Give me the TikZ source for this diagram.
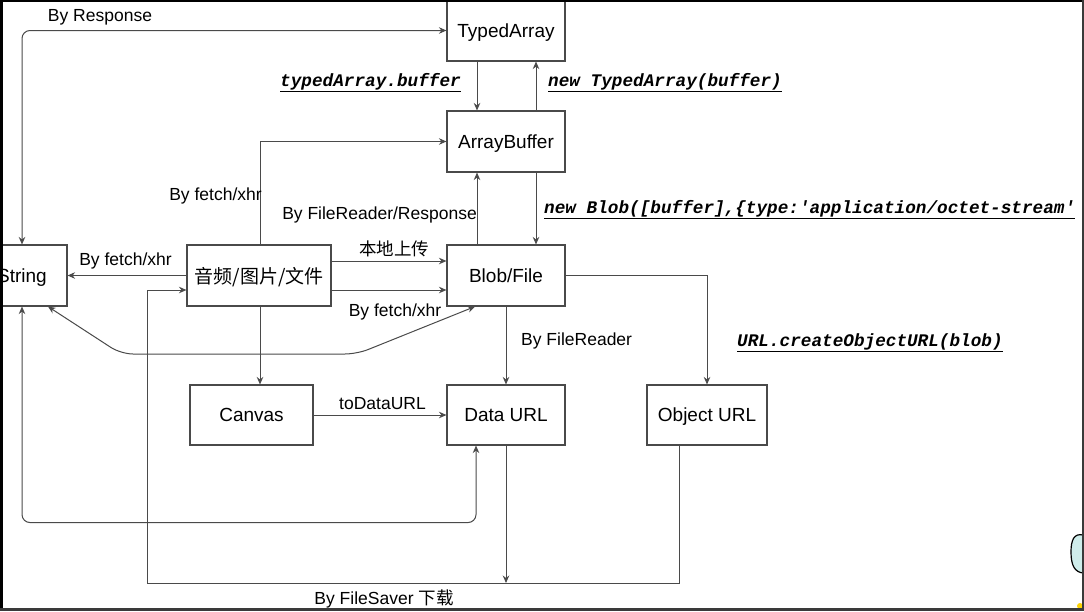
\documentclass[tikz,border=0pt]{standalone}
\usepackage{fontspec}
\setmainfont{Liberation Sans}
\setmonofont{Liberation Mono}
\newfontfamily\cjk{Noto Sans CJK SC}
\usepackage{xcolor}
\usetikzlibrary{
    calc,
    arrows.meta
}
\definecolor{linegray}{HTML}{4A4A4A}
\definecolor{framegray}{HTML}{3A3A3A}
\definecolor{blobcyan}{HTML}{CFEDEB}

\begin{document}
\begin{tikzpicture}[
            x=1pt, y=-1pt,
            >={Stealth[length=7.5pt, width=6.5pt]},
            box/.style={draw=linegray, line width=1.1pt, inner sep=0pt, text depth=0pt, minimum width=118pt, minimum height=61pt, font=\fontsize{19}{22}\selectfont},
            link/.style={draw=linegray, line width=1pt},
            edge label/.style={inner sep=1pt, text depth=0pt, font=\fontsize{17.5}{20}\selectfont},
            code label/.style={inner sep=1pt, text depth=0pt, font=\ttfamily\bfseries\itshape\fontsize{17.7}{20}\selectfont}
        ]
        \useasboundingbox (0,0) rectangle (1084,611);
        \fill[white] (0,0) rectangle (1084,611);

        % boxes
        \node[box] (typed) at (506,30.5) {TypedArray};
        \node[box] (buffer) at (506,141.5) {ArrayBuffer};
        \node[box] (blob) at (506,275.5) {Blob/File};
        \node[box, minimum width=144pt] (media) at (259,275.5) {\cjk 音频/图片/文件};
        \node[box, minimum width=90pt] (string) at (22,275.5) {String};
        \node[box, minimum width=123pt, minimum height=60pt] (canvas) at (251.5,415) {Canvas};
        \node[box, minimum height=60pt] (dataurl) at (506,415) {Data URL};
        \node[box, minimum width=120pt, minimum height=60pt] (objurl) at (707,415) {Object URL};

        \coordinate (saver) at (147,583);

        % connectors
        \draw[link, <->, rounded corners=8pt] (string.north) |- (typed.west);
        \draw[link, ->] ([xshift=-29pt]typed.south) -- ([xshift=-29pt]buffer.north);
        \draw[link, ->] ([xshift=30pt]buffer.north) -- ([xshift=30pt]typed.south);
        \draw[link, ->] ([xshift=30pt]buffer.south) -- ([xshift=30pt]blob.north);
        \draw[link, ->] ([xshift=-29pt]blob.north) -- ([xshift=-29pt]buffer.south);
        \draw[link, ->] ([xshift=1pt]media.north) |- (buffer.west);
        \draw[link, ->] (media.west) -- (string.east);
        \draw[link, ->] ([yshift=14.5pt]media.east) -- ([yshift=14.5pt]blob.west);
        \draw[link, ->] ([yshift=-14.5pt]media.east) -- ([yshift=-14.5pt]blob.west);
        \draw[link, <->, rounded corners=12pt] ([xshift=26pt]string.south) -- (121,354) -- (357,354) -- ([xshift=-31pt]blob.south);
        \draw[link, ->] ([xshift=1pt]media.south) -- ([xshift=1pt]media.south |- canvas.north);
        \draw[link, ->] (canvas) -- (dataurl);
        \draw[link, ->] (blob) -- (dataurl);
        \draw[link, ->] (blob.east) -| (objurl.north);
        \draw[link, <->, rounded corners=8pt] ([xshift=-30pt]dataurl.south) -- ++(0,77) -| (string.south);
        \draw[link, ->] ([xshift=-28pt]objurl.south) |- (saver) |- ([yshift=-14.5pt]media.west);
        \draw[link, ->] (dataurl.south) -- (dataurl.south |- saver);

        % labels
        \node[edge label] (l-response) at (100,15) {By Response};
        \node[code label] (l-typedbuf) at (370.5,80) {\underline{typedArray.buffer}};
        \node[code label, anchor=west] (l-newtyped) at (547,80) {\underline{new TypedArray(buffer)}};
        \node[code label, anchor=west] (l-newblob) at (543,207) {\underline{new Blob([buffer],\{type:'application/octet-stream'}};
        \node[edge label, anchor=east] (l-reader) at (478,213) {By FileReader/Response};
        \node[edge label] (l-fetchbuf) at (215.5,194) {By fetch/xhr};
        \node[edge label] (l-fetchstr) at (125.5,259) {By fetch/xhr};
        \node[edge label] (l-upload) at (394,248) {\cjk 本地上传};
        \node[edge label] (l-fetchblob) at (395,310) {By fetch/xhr};
        \node[edge label] (l-todata) at (382.5,403) {toDataURL};
        \node[edge label, anchor=west] (l-filereader) at (520,339) {By FileReader};
        \node[code label, anchor=west] (l-objurl) at (736,340) {\underline{URL.createObjectURL(blob)}};
        \node[edge label] (l-saver) at (384,597) {By FileSaver {\cjk 下载}};

        % screen frame
        \fill[blobcyan, draw=black, line width=1.2pt] (1083,535) .. controls (1074,533) and (1071,540) .. (1071,552) .. controls (1071,566) and (1075,572) .. (1083,573);
        \fill[yellow!70!orange] (1080,606) circle (3);
        \fill[black] (0,0) rectangle (3,611);
        \fill[black] (0,0) rectangle (1084,1.5);
        \fill[framegray] (0,607.5) rectangle (1084,611);
        \fill[framegray] (1081.5,0) rectangle (1084,611);
    \end{tikzpicture}
\end{document}
